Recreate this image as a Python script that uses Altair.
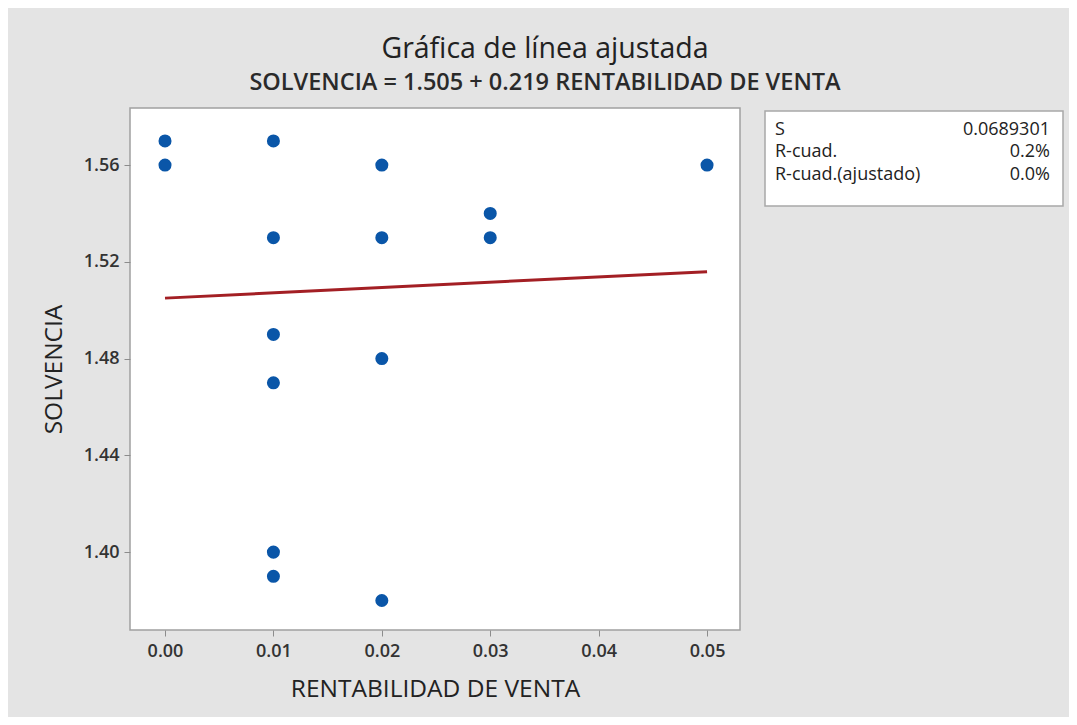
import altair as alt
import pandas as pd

# Data
rentabilidad = [0.00, 0.00, 0.01, 0.01, 0.01, 0.01, 0.01, 0.01, 0.02, 0.02, 0.02, 0.02, 0.03, 0.03, 0.05]
solvencia = [1.57, 1.56, 1.57, 1.53, 1.49, 1.47, 1.40, 1.39, 1.56, 1.53, 1.48, 1.38, 1.54, 1.53, 1.56]

intercept = 1.505
slope = 0.219
fit_x = [0.00, 0.05]

stat_labels = ["S", "R-cuad.", "R-cuad.(ajustado)"]
stat_values = ["0.0689301", "0.2%", "0.0%"]

x_ticks = [0.00, 0.01, 0.02, 0.03, 0.04, 0.05]
y_ticks = [1.40, 1.44, 1.48, 1.52, 1.56]

pts = pd.DataFrame({"x": rentabilidad, "y": solvencia})
fit = pd.DataFrame({"x": fit_x, "y": [intercept + slope * v for v in fit_x]})

FONT = "Open Sans"
W, H = 610, 522

xs = alt.X("x:Q", title="RENTABILIDAD DE VENTA",
           scale=alt.Scale(domain=[-0.00323, 0.05304], nice=False, zero=False),
           axis=alt.Axis(values=x_ticks, format=".2f", grid=False, domain=False,
                         tickColor="#8c8c8c", tickSize=6, labelPadding=6,
                         labelFontSize=18, labelFontWeight=600, labelColor="#333333", labelFont=FONT,
                         titleFontSize=24.5, titleFont=FONT, titleFontWeight="normal",
                         titleColor="#222222", titlePadding=17))
ys = alt.Y("y:Q", title="SOLVENCIA",
           scale=alt.Scale(domain=[1.3678, 1.5836], nice=False, zero=False),
           axis=alt.Axis(values=y_ticks, format=".2f", grid=False, domain=False,
                         tickColor="#8c8c8c", tickSize=6, labelPadding=5,
                         labelFontSize=18, labelFontWeight=600, labelColor="#333333", labelFont=FONT,
                         titleFontSize=24.5, titleFont=FONT, titleFontWeight="normal",
                         titleColor="#222222", titlePadding=17))

points = alt.Chart(pts).mark_circle(size=170, color="#0a56a8", opacity=1).encode(x=xs, y=ys)
line = alt.Chart(fit).mark_line(color="#a31f24", strokeWidth=3).encode(x="x:Q", y="y:Q")

box = alt.Chart(pd.DataFrame({"a": [0]})).mark_rect(
    fill="white", stroke="#a8a8a8", strokeWidth=1.5
).encode(x=alt.value(635), x2=alt.value(933), y=alt.value(3), y2=alt.value(98))

row_y = [22, 44, 67]
stat_layers = []
for lbl, v, yy in zip(stat_labels, stat_values, row_y):
    d = pd.DataFrame({"label": [lbl], "value": [v]})
    stat_layers.append(alt.Chart(d).mark_text(
        align="left", baseline="middle", font=FONT, fontSize=18, color="#222222"
    ).encode(x=alt.value(645), y=alt.value(yy), text="label:N"))
    stat_layers.append(alt.Chart(d).mark_text(
        align="right", baseline="middle", font=FONT, fontSize=18, color="#222222"
    ).encode(x=alt.value(920), y=alt.value(yy), text="value:N"))

chart = alt.layer(points, line, box, *stat_layers).properties(
    width=W, height=H,
    title=alt.TitleParams(
        text="Gráfica de línea ajustada",
        subtitle="SOLVENCIA = 1.505 + 0.219 RENTABILIDAD DE VENTA",
        anchor="middle", dx=110, offset=14,
        font=FONT, fontSize=28.5, fontWeight="normal", color="#222222",
        subtitleFont=FONT, subtitleFontSize=23.5, subtitleFontWeight=600, subtitleColor="#2a2a2a",
        subtitlePadding=7,
    ),
    autosize=alt.AutoSizeParams(type="none"),
    padding={"left": 122, "top": 100, "right": 329, "bottom": 87},
    background="#e4e4e4",
).configure_view(
    stroke="#a0a0a0", strokeWidth=1.5, fill="white"
)

chart.save("out.html", embed_options={"renderer": "svg", "actions": False})
